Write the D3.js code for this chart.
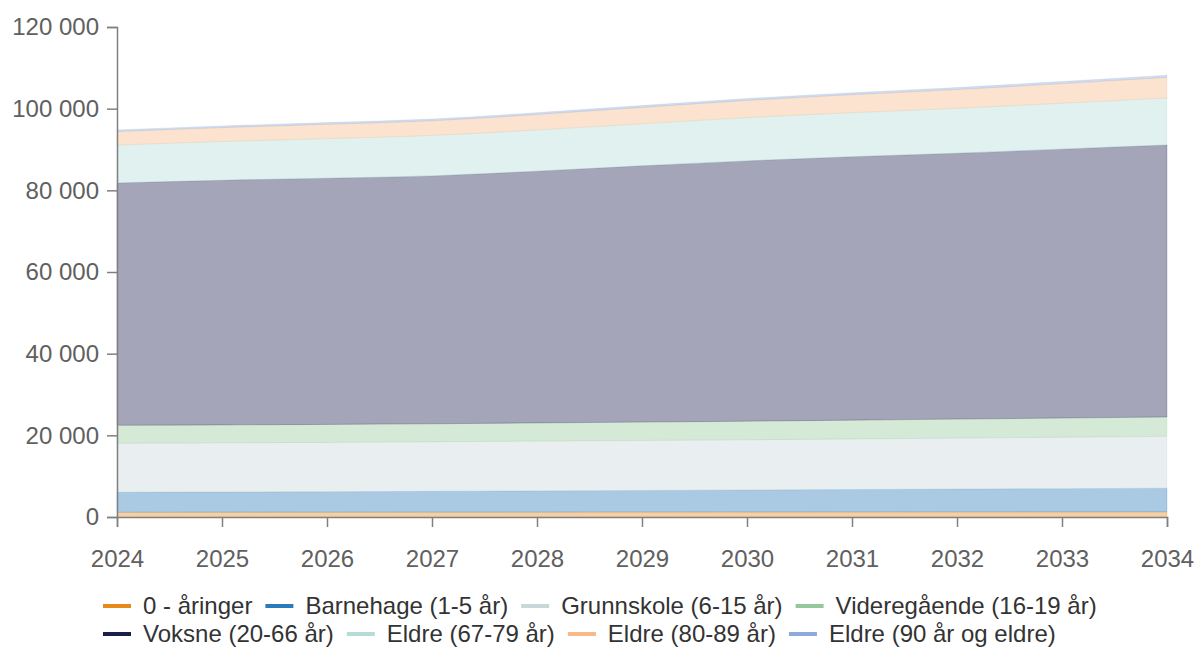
<!DOCTYPE html>
<html>
<head>
<meta charset="utf-8">
<script src="https://cdn.jsdelivr.net/npm/d3@7"></script>
<style>
  body { margin: 0; background: #fff; }
  svg { display: block; font-family: "Liberation Sans", Arial, sans-serif; }
</style>
</head>
<body>
<svg id="chart" width="1195" height="647"></svg>
<script>
// ---- Data ----
const years = [2024, 2025, 2026, 2027, 2028, 2029, 2030, 2031, 2032, 2033, 2034];
const seriesNames = [
  "0 - åringer", "Barnehage (1-5 år)", "Grunnskole (6-15 år)", "Videregående (16-19 år)",
  "Voksne (20-66 år)", "Eldre (67-79 år)", "Eldre (80-89 år)", "Eldre (90 år og eldre)"
];
const aringer0     = [1150, 1160, 1170, 1180, 1190, 1200, 1210, 1220, 1230, 1240, 1250];
const barnehage    = [4900, 4950, 5000, 5100, 5200, 5300, 5400, 5500, 5600, 5700, 5800];
const grunnskole   = [12000, 12050, 12100, 12150, 12200, 12250, 12300, 12400, 12500, 12600, 12700];
const videregaende = [4400, 4400, 4400, 4400, 4450, 4500, 4550, 4600, 4650, 4700, 4750];
const voksne       = [59350, 59900, 60300, 60700, 61650, 62750, 63750, 64500, 65100, 65850, 66600];
const eldre6779    = [9300, 9500, 9700, 9900, 10100, 10300, 10600, 10800, 11000, 11250, 11500];
const eldre8089    = [3300, 3400, 3500, 3600, 3800, 4000, 4200, 4400, 4600, 4800, 5050];
const eldre90      = [400, 410, 420, 430, 440, 450, 460, 470, 490, 510, 530];
const yTicks = [0, 20000, 40000, 60000, 80000, 100000, 120000];

const seriesValues = [aringer0, barnehage, grunnskole, videregaende, voksne, eldre6779, eldre8089, eldre90];
const colors = ["#e8891c", "#2b7bba", "#c8d8da", "#95c79a", "#1c1f4e", "#b5dcd7", "#f7b98a", "#8ea9dc"];

// ---- Layout ----
const W = 1195, H = 647;
const margin = { top: 27, right: 28, bottom: 130, left: 117 };
const svg = d3.select("#chart");

const x = d3.scaleLinear().domain([2024, 2034]).range([margin.left, W - margin.right]);
const y = d3.scaleLinear().domain([0, 120000]).range([H - margin.bottom, margin.top]);

const rows = years.map((yr, i) => {
  const r = { year: yr };
  seriesNames.forEach((n, k) => r[n] = seriesValues[k][i]);
  return r;
});
const stacked = d3.stack().keys(seriesNames)(rows);

const area = d3.area()
  .x(d => x(d.data.year))
  .y0(d => y(d[0]))
  .y1(d => y(d[1]))
  .curve(d3.curveMonotoneX);

svg.append("g").selectAll("path")
  .data(stacked)
  .join("path")
  .attr("d", area)
  .attr("fill", (d, i) => colors[i])
  .attr("fill-opacity", 0.4)
  .attr("stroke", (d, i) => colors[i])
  .attr("stroke-opacity", 0.2)
  .attr("stroke-width", 1);

// ---- Axes ----
const loc = d3.formatLocale({ decimal: ",", thousands: " ", grouping: [3], currency: ["", ""] });
const fmt = loc.format(",d");

const yAxis = svg.append("g")
  .attr("transform", `translate(${margin.left},0)`)
  .call(d3.axisLeft(y).tickValues(yTicks).tickFormat(fmt).tickSize(10).tickPadding(8));

const xAxis = svg.append("g")
  .attr("transform", `translate(0,${H - margin.bottom})`)
  .call(d3.axisBottom(x).tickValues(years).tickFormat(d3.format("d")).tickSize(10).tickPadding(23));

[yAxis, xAxis].forEach(g => {
  g.selectAll("path, line").attr("stroke", "#808080").attr("stroke-width", 1.5);
  g.selectAll("text").attr("fill", "#606060").style("font-size", "24px")
    .style("font-family", '"Liberation Sans", Arial, sans-serif');
});

// ---- Legend ----
const legendRows = [[0, 1, 2, 3], [4, 5, 6, 7]];
const legendY = [606, 634];
const legend = svg.append("g");
legendRows.forEach((row, ri) => {
  let cx = 103;
  row.forEach(k => {
    const g = legend.append("g").attr("transform", `translate(${cx},${legendY[ri]})`);
    g.append("line").attr("x1", 0).attr("x2", 28).attr("y1", 0).attr("y2", 0)
      .attr("stroke", colors[k]).attr("stroke-width", 4);
    const t = g.append("text").attr("x", 40).attr("y", 0).attr("dy", "0.35em")
      .attr("fill", "#333").style("font-size", "24px").text(seriesNames[k]);
    cx += 40 + t.node().getComputedTextLength() + 13;
  });
});
</script>
</body>
</html>
